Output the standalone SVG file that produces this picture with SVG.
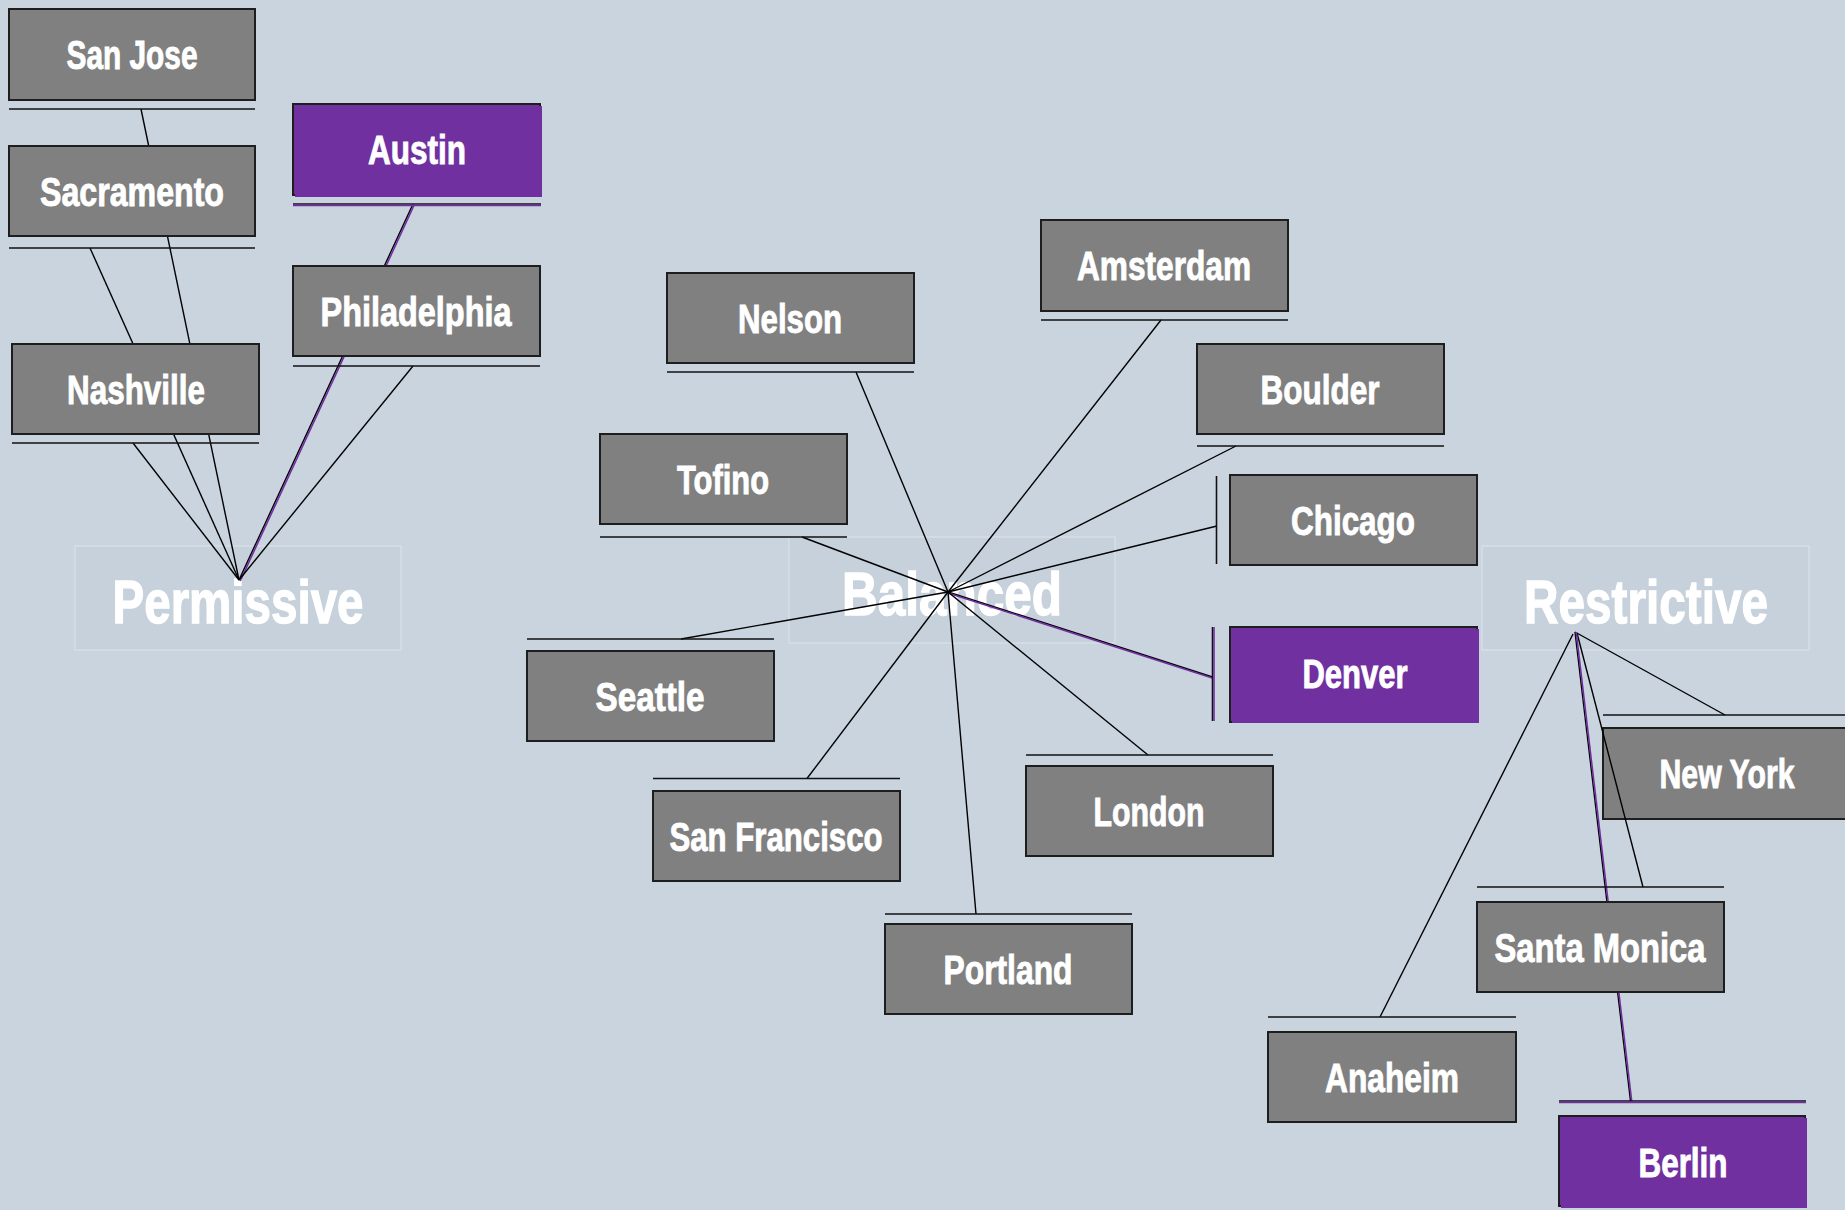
<svg xmlns="http://www.w3.org/2000/svg" width="1845" height="1210" viewBox="0 0 1845 1210">
<defs>
<style>
.bg{fill:#c9d4df}
.lbl rect{fill:#c6d1dc;stroke:#d6dee6;stroke-width:1.5}
.lbl text{font-family:"Liberation Sans",Arial,sans-serif;font-weight:bold;font-size:62px;fill:#ffffff;stroke:#ffffff;stroke-width:1.4;text-anchor:middle}
.node rect.box{fill:#808080;stroke:#1e1e1e;stroke-width:2}
.node.hl rect.box{fill:#7030a0}
.node rect.hlfill{fill:#7030a0;stroke:none}
.node text{font-family:"Liberation Sans",Arial,sans-serif;font-weight:bold;font-size:40px;fill:#ffffff;stroke:#ffffff;stroke-width:0.9;text-anchor:middle}
.port{stroke:#111111;stroke-width:1.6;fill:none}
.port-hl{stroke:#7030a0;stroke-width:1.6;fill:none}
.edge line{stroke:#000000;stroke-width:1.4;fill:none}
.edge line.hl{stroke:#7030a0;stroke-width:1.6}
</style>
</defs>
<rect class="bg" x="0" y="0" width="1845" height="1210"/>

<g id="label-permissive" class="lbl">
<rect x="75" y="546" width="326" height="104"/>
<text x="238" y="623" textLength="251" lengthAdjust="spacingAndGlyphs">Permissive</text>
</g>
<g id="label-balanced" class="lbl">
<rect x="789" y="537" width="326" height="106"/>
<text x="952" y="615" textLength="220" lengthAdjust="spacingAndGlyphs">Balanced</text>
</g>
<g id="label-restrictive" class="lbl">
<rect x="1482" y="546" width="327" height="104"/>
<text x="1646" y="623" textLength="244" lengthAdjust="spacingAndGlyphs">Restrictive</text>
</g>

<g id="node-newyork" class="node">
<line class="port" x1="1603" y1="715" x2="1845" y2="715"/>
<rect class="box" x="1603" y="728" width="250" height="91"/>
<text x="1727" y="788" textLength="135" lengthAdjust="spacingAndGlyphs">New York</text>
</g>

<g id="connectors" class="edge">
<line x1="239" y1="580" x2="141" y2="109"/>
<line x1="239" y1="580" x2="90" y2="248"/>
<line x1="239" y1="580" x2="133" y2="443"/>
<line x1="239" y1="580" x2="413" y2="204"/>
<line class="hl" x1="240.2" y1="581" x2="414.2" y2="205"/>
<line x1="239" y1="580" x2="413" y2="366"/>

<line x1="948" y1="592" x2="856" y2="372"/>
<line x1="948" y1="592" x2="1161" y2="320"/>
<line x1="948" y1="592" x2="1236" y2="446"/>
<line x1="948" y1="592" x2="1217" y2="526"/>
<line x1="948" y1="592" x2="1212.5" y2="677"/>
<line class="hl" x1="948.5" y1="593.2" x2="1213" y2="678.2"/>
<line x1="948" y1="592" x2="802" y2="537"/>
<line x1="948" y1="592" x2="681" y2="639"/>
<line x1="948" y1="592" x2="807" y2="778.5"/>
<line x1="948" y1="592" x2="1148" y2="755"/>
<line x1="948" y1="592" x2="976" y2="914"/>

<line x1="1575" y1="632" x2="1725" y2="715"/>
<line x1="1577" y1="633" x2="1643" y2="887"/>
<line x1="1573" y1="634" x2="1380" y2="1017"/>
<line x1="1575" y1="632" x2="1630.5" y2="1101"/>
<line class="hl" x1="1576.2" y1="632" x2="1631.7" y2="1101"/>
</g>

<g id="node-sanjose" class="node">
<line class="port" x1="9" y1="109" x2="255" y2="109"/>
<rect class="box" x="9" y="9" width="246" height="91"/>
<text x="132" y="69" textLength="131" lengthAdjust="spacingAndGlyphs">San Jose</text>
</g>
<g id="node-sacramento" class="node">
<line class="port" x1="9" y1="248" x2="255" y2="248"/>
<rect class="box" x="9" y="146" width="246" height="90"/>
<text x="132" y="206" textLength="184" lengthAdjust="spacingAndGlyphs">Sacramento</text>
</g>
<g id="node-austin" class="node hl">
<line class="port" x1="293" y1="204" x2="541" y2="204"/>
<line class="port-hl" x1="293" y1="205.4" x2="541" y2="205.4"/>
<rect class="box" x="293" y="104" width="247" height="91"/>
<rect class="hlfill" x="295" y="106" width="247" height="91"/>
<text x="417" y="164" textLength="98" lengthAdjust="spacingAndGlyphs">Austin</text>
</g>
<g id="node-philadelphia" class="node">
<line class="port" x1="293" y1="366" x2="540" y2="366"/>
<rect class="box" x="293" y="266" width="247" height="90"/>
<text x="416" y="326" textLength="191" lengthAdjust="spacingAndGlyphs">Philadelphia</text>
</g>
<g id="node-nashville" class="node">
<line class="port" x1="12" y1="443" x2="259" y2="443"/>
<rect class="box" x="12" y="344" width="247" height="90"/>
<text x="136" y="404" textLength="138" lengthAdjust="spacingAndGlyphs">Nashville</text>
</g>

<g id="node-nelson" class="node">
<line class="port" x1="667" y1="372" x2="914" y2="372"/>
<rect class="box" x="667" y="273" width="247" height="90"/>
<text x="790" y="333" textLength="104" lengthAdjust="spacingAndGlyphs">Nelson</text>
</g>
<g id="node-amsterdam" class="node">
<line class="port" x1="1041" y1="320" x2="1288" y2="320"/>
<rect class="box" x="1041" y="220" width="247" height="91"/>
<text x="1164" y="280" textLength="174" lengthAdjust="spacingAndGlyphs">Amsterdam</text>
</g>
<g id="node-boulder" class="node">
<line class="port" x1="1197" y1="446" x2="1444" y2="446"/>
<rect class="box" x="1197" y="344" width="247" height="90"/>
<text x="1320" y="404" textLength="119" lengthAdjust="spacingAndGlyphs">Boulder</text>
</g>
<g id="node-tofino" class="node">
<line class="port" x1="600" y1="537" x2="847" y2="537"/>
<rect class="box" x="600" y="434" width="247" height="90"/>
<text x="723" y="494" textLength="92" lengthAdjust="spacingAndGlyphs">Tofino</text>
</g>
<g id="node-chicago" class="node">
<line class="port" x1="1216.5" y1="476" x2="1216.5" y2="564"/>
<rect class="box" x="1230" y="475" width="247" height="90"/>
<text x="1353" y="535" textLength="124" lengthAdjust="spacingAndGlyphs">Chicago</text>
</g>
<g id="node-seattle" class="node">
<line class="port" x1="527" y1="639" x2="774" y2="639"/>
<rect class="box" x="527" y="651" width="247" height="90"/>
<text x="650" y="711" textLength="109" lengthAdjust="spacingAndGlyphs">Seattle</text>
</g>
<g id="node-denver" class="node hl">
<line class="port" x1="1212.5" y1="627" x2="1212.5" y2="721"/>
<line class="port-hl" x1="1214" y1="627" x2="1214" y2="721"/>
<rect class="box" x="1230" y="627" width="247" height="95"/>
<rect class="hlfill" x="1232" y="629" width="247" height="94"/>
<text x="1355" y="688" textLength="105" lengthAdjust="spacingAndGlyphs">Denver</text>
</g>
<g id="node-sanfrancisco" class="node">
<line class="port" x1="653" y1="778.5" x2="900" y2="778.5"/>
<rect class="box" x="653" y="791" width="247" height="90"/>
<text x="776" y="851" textLength="213" lengthAdjust="spacingAndGlyphs">San Francisco</text>
</g>
<g id="node-london" class="node">
<line class="port" x1="1026" y1="755" x2="1273" y2="755"/>
<rect class="box" x="1026" y="766" width="247" height="90"/>
<text x="1149" y="826" textLength="111" lengthAdjust="spacingAndGlyphs">London</text>
</g>
<g id="node-portland" class="node">
<line class="port" x1="885" y1="914" x2="1132" y2="914"/>
<rect class="box" x="885" y="924" width="247" height="90"/>
<text x="1008" y="984" textLength="129" lengthAdjust="spacingAndGlyphs">Portland</text>
</g>

<g id="node-santamonica" class="node">
<line class="port" x1="1477" y1="887" x2="1724" y2="887"/>
<rect class="box" x="1477" y="902" width="247" height="90"/>
<text x="1600" y="962" textLength="211" lengthAdjust="spacingAndGlyphs">Santa Monica</text>
</g>
<g id="node-anaheim" class="node">
<line class="port" x1="1268" y1="1017" x2="1516" y2="1017"/>
<rect class="box" x="1268" y="1032" width="248" height="90"/>
<text x="1392" y="1092" textLength="134" lengthAdjust="spacingAndGlyphs">Anaheim</text>
</g>
<g id="node-berlin" class="node hl">
<line class="port" x1="1559" y1="1101" x2="1806" y2="1101"/>
<line class="port-hl" x1="1559" y1="1102.4" x2="1806" y2="1102.4"/>
<rect class="box" x="1559" y="1116" width="246" height="90"/>
<rect class="hlfill" x="1561" y="1118" width="246" height="90"/>
<text x="1683" y="1177" textLength="89" lengthAdjust="spacingAndGlyphs">Berlin</text>
</g>
</svg>
